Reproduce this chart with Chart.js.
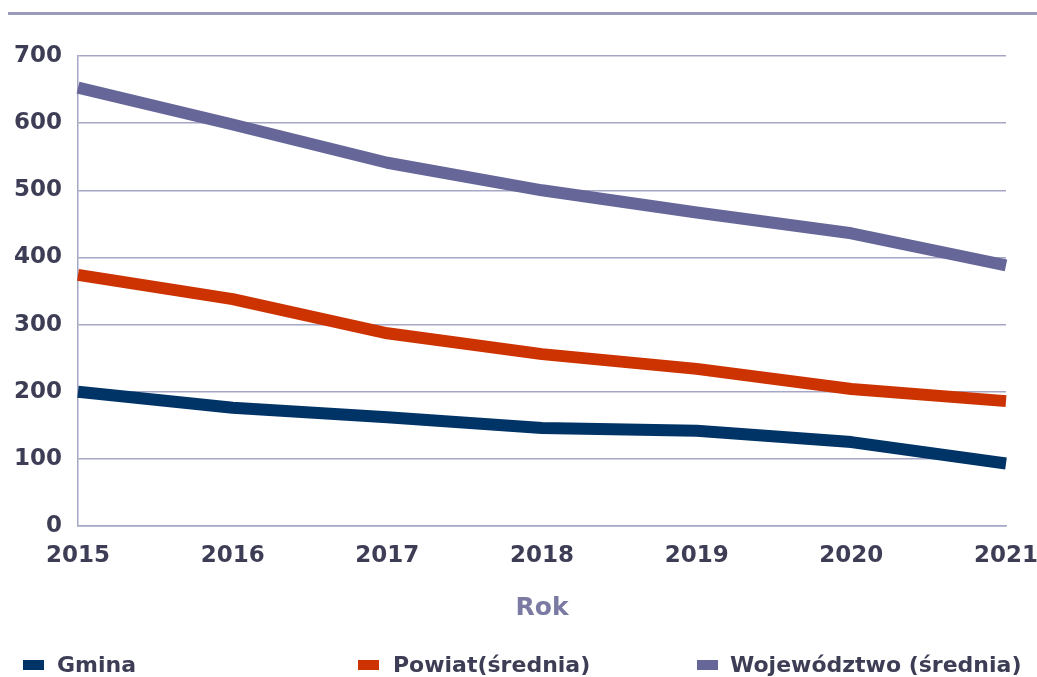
<!DOCTYPE html>
<html lang="pl">
<head>
<meta charset="utf-8">
<title>Gmina / Powiat / Województwo</title>
<script src="https://cdn.jsdelivr.net/npm/chart.js@4/dist/chart.umd.min.js"></script>
<style>
  html, body { margin: 0; padding: 0; background: #fff; }
  #wrap { position: relative; width: 1037px; height: 677px; overflow: hidden; }
  #topline { position: absolute; left: 8px; right: 0; top: 12px; height: 3px; background: #9a9abb; }
  #chart { position: absolute; left: 0; top: 0; }
  #legend { position: absolute; left: 0; top: 652px; width: 1037px; height: 26px;
    font: bold 22px "DejaVu Sans", sans-serif; color: #3d3d55; }
  #legend .box { position: absolute; top: 8px; width: 21px; height: 10px; }
  #legend .txt { position: absolute; top: 0; line-height: 26px; white-space: nowrap; }
</style>
</head>
<body>
<div id="wrap">
  <div id="topline"></div>
  <canvas id="chart" width="1037" height="677"></canvas>
  <div id="legend"></div>
</div>
<script>
  // dane
  const years = ['2015', '2016', '2017', '2018', '2019', '2020', '2021'];
  const gmina = [200, 176, 162, 146, 142, 125, 93];
  const powiat = [374, 338, 287, 256, 234, 204, 186];
  const wojewodztwo = [653, 598, 541, 500, 467, 436, 388];

  const seriesNames = ['Gmina', 'Powiat(średnia)', 'Województwo (średnia)'];
  const seriesColors = ['#003366', '#cc3300', '#666699'];
  const legendX = [[23, 57], [358, 393], [697, 730]];

  const GRID = '#a6a6c6';
  const TICK = '#3d3d55';

  const mkSet = (i, data) => ({
    label: seriesNames[i],
    data,
    borderColor: seriesColors[i],
    backgroundColor: seriesColors[i],
    borderWidth: 12,
    borderJoinStyle: 'round',
    borderCapStyle: 'butt',
    pointRadius: 0,
    tension: 0,
    fill: false,
  });

  new Chart(document.getElementById('chart'), {
    type: 'line',
    data: {
      labels: years,
      datasets: [mkSet(2, wojewodztwo), mkSet(1, powiat), mkSet(0, gmina)],
    },
    options: {
      responsive: false,
      animation: false,
      layout: {padding: {left: 0, top: 56, right: 31, bottom: 0}},
      plugins: {legend: {display: false}, tooltip: {enabled: false}},
      scales: {
        x: {
          offset: false,
          grid: {display: false, drawTicks: false},
          border: {display: true, color: GRID, width: 1.5},
          ticks: {
            color: TICK, padding: 16, maxRotation: 0,
            font: {family: '"DejaVu Sans", sans-serif', size: 23, weight: 'bold'},
          },
          title: {
            display: true, text: 'Rok', color: '#7a7aa2',
            font: {family: '"DejaVu Sans", sans-serif', size: 25, weight: 'bold'},
            padding: {top: 0, bottom: 54},
          },
          afterFit: (s) => { s.height = 151; s.paddingLeft = 0; s.paddingRight = 0; },
        },
        y: {
          min: 0, max: 700,
          grid: {color: GRID, lineWidth: 1.5, drawTicks: false},
          border: {display: true, color: GRID, width: 1.5},
          ticks: {
            stepSize: 100, color: TICK, padding: 16,
            font: {family: '"DejaVu Sans", sans-serif', size: 23, weight: 'bold'},
          },
          afterFit: (s) => { s.width = 78; },
        },
      },
    },
  });

  document.getElementById('legend').innerHTML = seriesNames.map((name, i) => `
    <div class="box" style="left:${legendX[i][0]}px;background:${seriesColors[i]}"></div>
    <div class="txt" style="left:${legendX[i][1]}px">${name}</div>`).join('');
</script>
</body>
</html>
